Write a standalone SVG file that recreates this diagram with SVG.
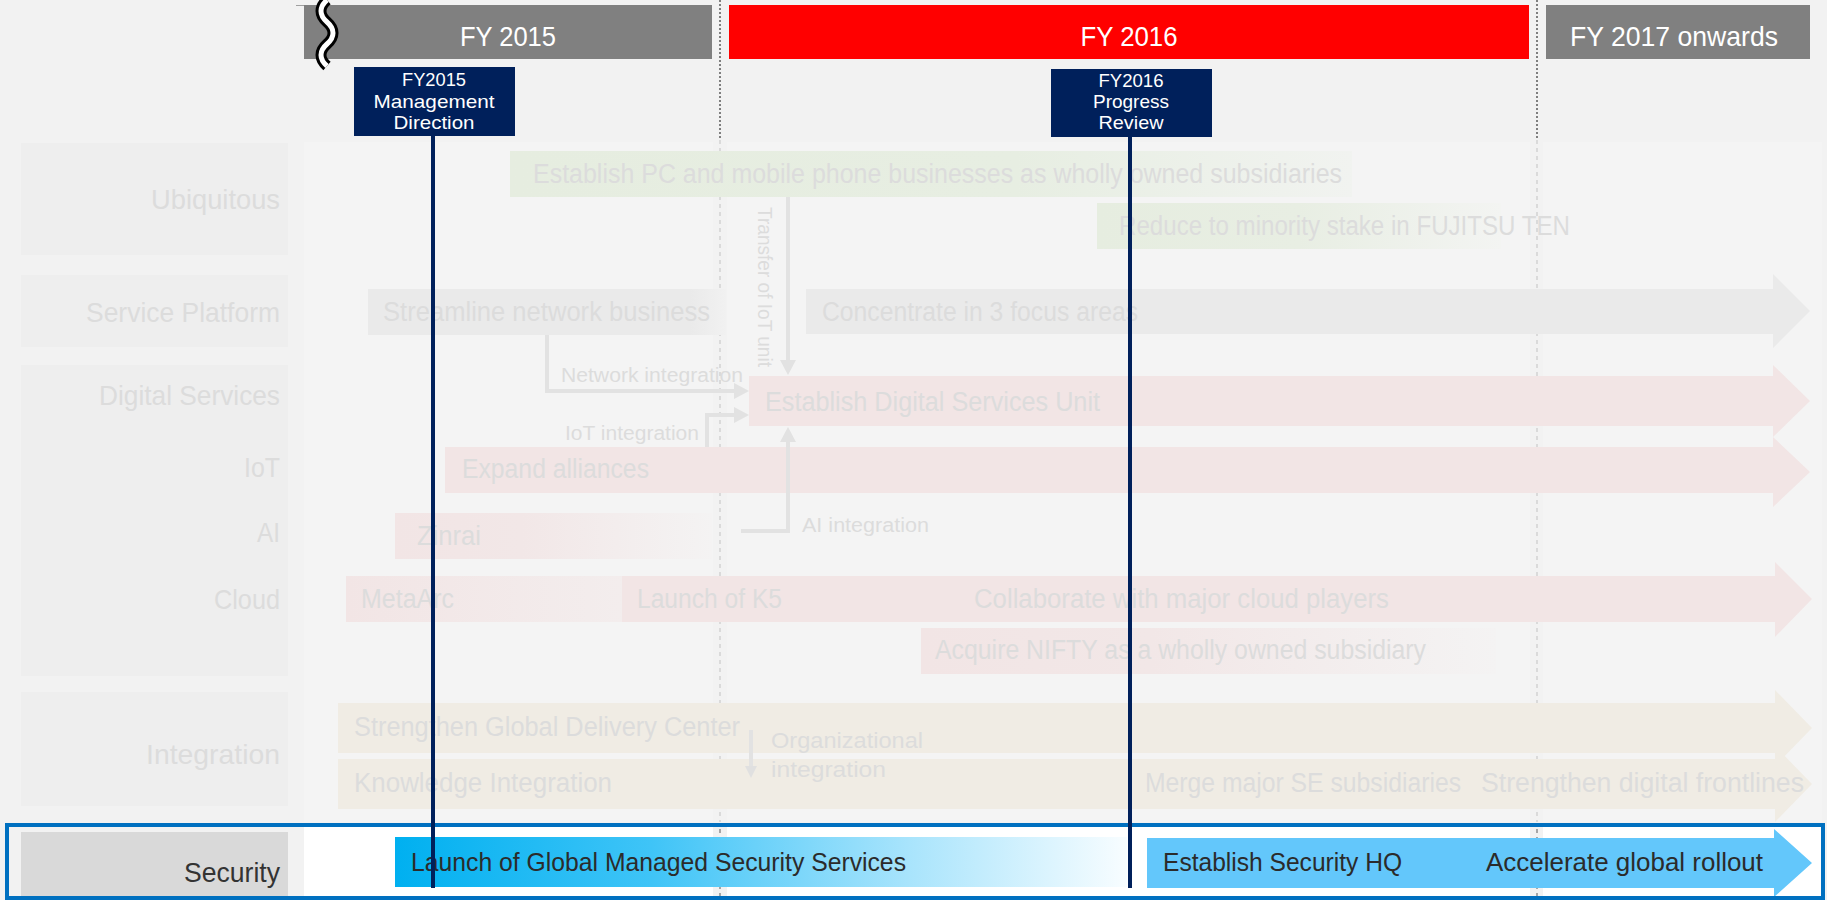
<svg xmlns="http://www.w3.org/2000/svg" width="1827" height="900" viewBox="0 0 1827 900">
<style>
text{font-family:"Liberation Sans",Arial,sans-serif}
.hd{fill:#fff;font-size:28px;text-anchor:middle}
.ms{fill:#fff;font-size:19px;text-anchor:middle}
.lb{fill:#dcdcdc;font-size:28px;text-anchor:end}
.rt{fill:#dcdcdc;font-size:27px}
.sm{fill:#dcdcdc;font-size:20px}
.og{fill:#dcdcdc;font-size:22px}
.st{fill:#2b2b2b;font-size:25px}
.lbox{fill:#eeeeee}
.col{fill:#f4f4f4}
.pink{fill:#f2e5e5}
.beige{fill:#f0ece4}
.gray{fill:#eaeaea}
.green{fill:#e6ede0}
.conn{fill:none;stroke:#e2e2e2;stroke-width:4}
.msbox{fill:#00205b}
.msline{stroke:#00205b;stroke-width:4}
</style>
<defs>
<marker id="ah" viewBox="0 0 15 16" refX="0" refY="8" markerWidth="15" markerHeight="16" markerUnits="userSpaceOnUse" orient="auto"><path d="M0,0 L15,8 L0,16 z" fill="#e2e2e2"/></marker>
<marker id="ahs" viewBox="0 0 12 12" refX="0" refY="6" markerWidth="12" markerHeight="12" markerUnits="userSpaceOnUse" orient="auto"><path d="M0,0 L12,6 L0,12 z" fill="#e0e0e0"/></marker>
<linearGradient id="gGreen1" x1="0" x2="1" y1="0" y2="0"><stop offset="0" stop-color="#e6ede0"/><stop offset="0.6" stop-color="#e7eee2"/><stop offset="1" stop-color="#f1f3f0"/></linearGradient>
<linearGradient id="gGreen2" x1="0" x2="1" y1="0" y2="0"><stop offset="0" stop-color="#e6ede0"/><stop offset="0.5" stop-color="#e8eee3"/><stop offset="1" stop-color="#f3f4f2"/></linearGradient>
<linearGradient id="gGray" x1="0" x2="1" y1="0" y2="0"><stop offset="0" stop-color="#eaeaea"/><stop offset="0.9" stop-color="#eaeaea"/><stop offset="1" stop-color="#f1f1f1"/></linearGradient>
<linearGradient id="gPink1" x1="0" x2="1" y1="0" y2="0"><stop offset="0" stop-color="#f2e5e5"/><stop offset="0.4" stop-color="#f2e7e7"/><stop offset="1" stop-color="#f4f3f3"/></linearGradient>
<linearGradient id="gPink2" x1="0" x2="1" y1="0" y2="0"><stop offset="0" stop-color="#f2e5e5"/><stop offset="1" stop-color="#f3eded"/></linearGradient>
<linearGradient id="gCyan" x1="0" x2="1" y1="0" y2="0"><stop offset="0" stop-color="#00b0f0"/><stop offset="0.35" stop-color="#3fc4f7"/><stop offset="0.7" stop-color="#a8e4fc"/><stop offset="1" stop-color="#f8fdff"/></linearGradient>
</defs>

<rect x="0" y="0" width="1827" height="900" fill="#f2f2f2"/>

<g id="columns">
<rect class="col" x="304" y="142" width="409" height="680"/>
<rect class="col" x="727" y="142" width="803" height="680"/>
<rect class="col" x="1543" y="142" width="279" height="680"/>
</g>

<g id="header">
<line x1="296" y1="5.5" x2="306" y2="5.5" stroke="#a0a0a0" stroke-width="1"/>
<g id="fy2015"><rect x="304" y="5" width="408" height="54" fill="#808080"/><text class="hd" x="508" y="46" textLength="96" lengthAdjust="spacingAndGlyphs">FY 2015</text></g>
<g id="fy2016"><rect x="729" y="5" width="800" height="54" fill="#ff0000"/><text class="hd" x="1129" y="46" textLength="97" lengthAdjust="spacingAndGlyphs">FY 2016</text></g>
<g id="fy2017"><rect x="1546" y="5" width="264" height="54" fill="#808080"/><text class="hd" x="1674" y="46" textLength="208" lengthAdjust="spacingAndGlyphs">FY 2017 onwards</text></g>
<g id="break">
<path d="M327 0 c-8 7 -8 15 0 22 c8 7 8 15 0 22 c-8 7 -8 15 0 22" fill="none" stroke="#000" stroke-width="11"/>
<path d="M327 0 c-8 7 -8 15 0 22 c8 7 8 15 0 22 c-8 7 -8 15 0 22" fill="none" stroke="#fff" stroke-width="5"/>
</g>
</g>

<g id="dividers">
<line x1="720" y1="0" x2="720" y2="140" stroke="#7f7f7f" stroke-width="2" stroke-dasharray="2,2"/>
<line x1="1537" y1="0" x2="1537" y2="140" stroke="#7f7f7f" stroke-width="2" stroke-dasharray="2,2"/>
<line x1="720" y1="140" x2="720" y2="822" stroke="#dadada" stroke-width="2" stroke-dasharray="4,4"/>
<line x1="1537" y1="140" x2="1537" y2="822" stroke="#dadada" stroke-width="2" stroke-dasharray="4,4"/>
</g>

<g id="labels">
<g id="lbl-ubiquitous"><rect class="lbox" x="21" y="143" width="267" height="112"/><text class="lb" x="280" y="209" textLength="129" lengthAdjust="spacingAndGlyphs">Ubiquitous</text></g>
<g id="lbl-service-platform"><rect class="lbox" x="21" y="275" width="267" height="72"/><text class="lb" x="280" y="322" textLength="194" lengthAdjust="spacingAndGlyphs">Service Platform</text></g>
<g id="lbl-digital"><rect class="lbox" x="21" y="365" width="267" height="311"/>
<text class="lb" x="280" y="405" textLength="181" lengthAdjust="spacingAndGlyphs">Digital Services</text>
<text class="lb" x="280" y="477" textLength="36" lengthAdjust="spacingAndGlyphs">IoT</text>
<text class="lb" x="280" y="542" textLength="23" lengthAdjust="spacingAndGlyphs">AI</text>
<text class="lb" x="280" y="609" textLength="66" lengthAdjust="spacingAndGlyphs">Cloud</text></g>
<g id="lbl-integration"><rect class="lbox" x="21" y="692" width="267" height="114"/><text class="lb" x="280" y="764" textLength="134" lengthAdjust="spacingAndGlyphs">Integration</text></g>
</g>

<g id="n-establish-pc"><rect x="510" y="151" width="842" height="46" fill="url(#gGreen1)"/><text class="rt" x="533" y="183" textLength="809" lengthAdjust="spacingAndGlyphs">Establish PC and mobile phone businesses as wholly owned subsidiaries</text></g>
<g id="n-reduce"><rect x="1097" y="203" width="404" height="46" fill="url(#gGreen2)"/><text class="rt" x="1119" y="235" textLength="451" lengthAdjust="spacingAndGlyphs">Reduce to minority stake in FUJITSU TEN</text></g>
<g id="n-streamline"><rect x="368" y="289" width="358" height="46" fill="url(#gGray)"/><text class="rt" x="383" y="321" textLength="327" lengthAdjust="spacingAndGlyphs">Streamline network business</text></g>
<g id="n-concentrate"><polygon class="gray" points="806,289 1773,289 1773,274 1810,311 1773,348 1773,334 806,334"/><text class="rt" x="822" y="321" textLength="316" lengthAdjust="spacingAndGlyphs">Concentrate in 3 focus areas</text></g>
<g id="n-dsu"><polygon class="pink" points="749,376 1773,376 1773,365 1810,401 1773,437 1773,426 749,426"/><text class="rt" x="765" y="411" textLength="335" lengthAdjust="spacingAndGlyphs">Establish Digital Services Unit</text></g>
<g id="n-expand"><polygon class="pink" points="445,447 1773,447 1773,437 1810,472 1773,507 1773,493 445,493"/><text class="rt" x="462" y="478" textLength="187" lengthAdjust="spacingAndGlyphs">Expand alliances</text></g>
<g id="n-zinrai"><rect x="395" y="513" width="317" height="46" fill="url(#gPink1)"/><text class="rt" x="417" y="545" textLength="64" lengthAdjust="spacingAndGlyphs">Zinrai</text></g>
<g id="n-metaarc"><rect x="346" y="576" width="276" height="46" fill="url(#gPink2)"/><text class="rt" x="361" y="608" textLength="93" lengthAdjust="spacingAndGlyphs">MetaArc</text></g>
<g id="n-k5"><polygon class="pink" points="622,576 1775,576 1775,562 1812,599 1775,637 1775,622 622,622"/><text class="rt" x="637" y="608" textLength="145" lengthAdjust="spacingAndGlyphs">Launch of K5</text><text class="rt" x="974" y="608" textLength="415" lengthAdjust="spacingAndGlyphs">Collaborate with major cloud players</text></g>
<g id="n-nifty"><rect x="921" y="628" width="575" height="46" fill="url(#gPink1)"/><text class="rt" x="935" y="659" textLength="491" lengthAdjust="spacingAndGlyphs">Acquire NIFTY as a wholly owned subsidiary</text></g>
<g id="n-gdc"><polygon class="beige" points="338,703 1775,703 1775,690 1812,728 1775,766 1775,753 338,753"/><text class="rt" x="354" y="736" textLength="386" lengthAdjust="spacingAndGlyphs">Strengthen Global Delivery Center</text></g>
<g id="n-knowledge"><polygon class="beige" points="338,759 1775,759 1775,746 1812,784 1775,822 1775,809 338,809"/><text class="rt" x="354" y="792" textLength="258" lengthAdjust="spacingAndGlyphs">Knowledge Integration</text><text class="rt" x="1145" y="792" textLength="316" lengthAdjust="spacingAndGlyphs">Merge major SE subsidiaries</text><text class="rt" x="1481" y="792" textLength="323" lengthAdjust="spacingAndGlyphs">Strengthen digital frontlines</text></g>

<g id="connectors">
<path class="conn" d="M547 335 V391 H734" marker-end="url(#ah)"/>
<path class="conn" d="M707 447 V415 H734" marker-end="url(#ah)"/>
<path class="conn" d="M788 197 V360" marker-end="url(#ah)"/>
<path class="conn" d="M741 531 H788 V442" marker-end="url(#ah)"/>
<path class="conn" d="M751 730 V766" marker-end="url(#ahs)"/>
<text class="sm" x="561" y="382" textLength="182" lengthAdjust="spacingAndGlyphs">Network integration</text>
<text class="sm" x="565" y="440" textLength="134" lengthAdjust="spacingAndGlyphs">IoT integration</text>
<text class="sm" x="802" y="532" textLength="127" lengthAdjust="spacingAndGlyphs">AI integration</text>
<text class="sm" transform="translate(758 207) rotate(90)" x="0" y="0" textLength="160" lengthAdjust="spacingAndGlyphs">Transfer of IoT unit</text>
<text class="og" x="771" y="748" textLength="152" lengthAdjust="spacingAndGlyphs">Organizational</text>
<text class="og" x="771" y="777" textLength="115" lengthAdjust="spacingAndGlyphs">integration</text>
</g>

<g id="security-row">
<rect x="304" y="827" width="409" height="70" fill="#ffffff"/>
<rect x="727" y="827" width="803" height="70" fill="#ffffff"/>
<rect x="1543" y="827" width="279" height="70" fill="#ffffff"/>
<line x1="720" y1="829" x2="720" y2="897" stroke="#a6a6a6" stroke-width="2" stroke-dasharray="4,4"/>
<line x1="1537" y1="829" x2="1537" y2="897" stroke="#a6a6a6" stroke-width="2" stroke-dasharray="4,4"/>
<g id="lbl-security"><rect x="21" y="832" width="267" height="66" fill="#d9d9d9"/><text class="lb" style="fill:#333" x="280" y="882" textLength="96" lengthAdjust="spacingAndGlyphs">Security</text></g>
<g id="n-gmss"><rect x="395" y="837" width="732" height="50" fill="url(#gCyan)"/><text class="st" x="411" y="871" textLength="495" lengthAdjust="spacingAndGlyphs">Launch of Global Managed Security Services</text></g>
<g id="n-sechq"><polygon fill="#63c7fb" points="1147,838 1774,838 1774,829 1812,863 1774,897 1774,888 1147,888"/><text class="st" x="1163" y="871" textLength="239" lengthAdjust="spacingAndGlyphs">Establish Security HQ</text><text class="st" x="1486" y="871" textLength="277" lengthAdjust="spacingAndGlyphs">Accelerate global rollout</text></g>
<rect x="7" y="825" width="1816" height="73" fill="none" stroke="#0070c0" stroke-width="4"/>
</g>

<g id="ms-fy2015">
<line class="msline" x1="433" y1="135" x2="433" y2="888"/>
<rect class="msbox" x="354" y="67" width="161" height="69"/>
<text class="ms" x="434" y="86" textLength="64" lengthAdjust="spacingAndGlyphs">FY2015</text>
<text class="ms" x="434" y="108" textLength="121" lengthAdjust="spacingAndGlyphs">Management</text>
<text class="ms" x="434" y="129" textLength="81" lengthAdjust="spacingAndGlyphs">Direction</text>
</g>
<g id="ms-fy2016">
<line class="msline" x1="1130" y1="135" x2="1130" y2="888"/>
<rect class="msbox" x="1051" y="69" width="161" height="68"/>
<text class="ms" x="1131" y="87" textLength="65" lengthAdjust="spacingAndGlyphs">FY2016</text>
<text class="ms" x="1131" y="108" textLength="76" lengthAdjust="spacingAndGlyphs">Progress</text>
<text class="ms" x="1131" y="129" textLength="65" lengthAdjust="spacingAndGlyphs">Review</text>
</g>
</svg>
